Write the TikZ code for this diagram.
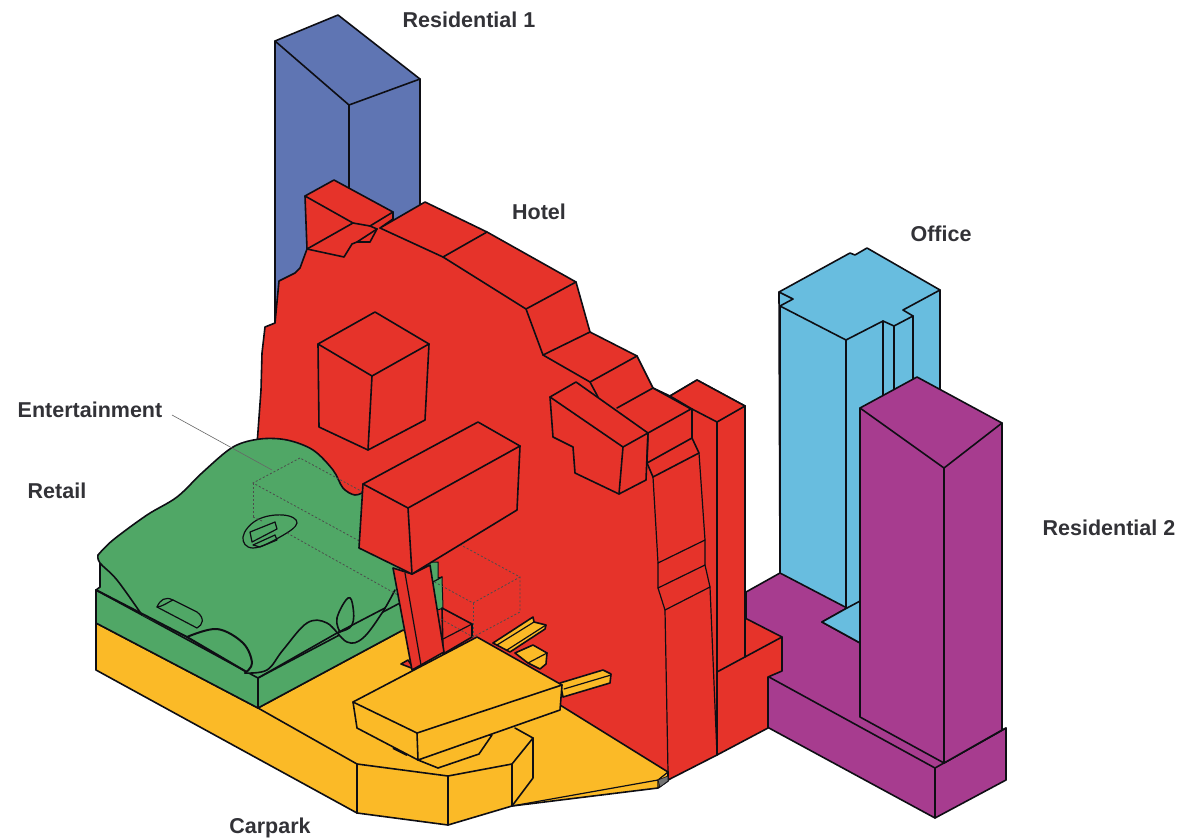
\documentclass[tikz,border=0pt]{standalone}
\usepackage{fontspec}
\newfontfamily\lblfont{Liberation Sans}
\definecolor{cblue}{HTML}{5F75B3}
\definecolor{cred}{HTML}{E6332A}
\definecolor{cgreen}{HTML}{50A766}
\definecolor{cyel}{HTML}{FBBA27}
\definecolor{cpur}{HTML}{A73C8F}
\definecolor{ccyan}{HTML}{68BDDF}
\definecolor{ink}{HTML}{0E0E14}
\tikzset{
  ln/.style={draw=ink,line width=1.6pt,line join=round,line cap=round},
  thin ln/.style={draw=ink,line width=1.2pt,line join=round,line cap=round},
  lbl/.style={font=\lblfont\bfseries\fontsize{21.5}{25}\selectfont,text=ink!85,inner sep=0pt},
  dots/.style={draw=black!70,line width=.8pt,dash pattern=on 2pt off 2pt},
  blueface/.style={ln,fill=cblue},
  redface/.style={ln,fill=cred},
  yelface/.style={ln,fill=cyel},
  purface/.style={ln,fill=cpur},
  cyanface/.style={ln,fill=ccyan}
}
\begin{document}
\begin{tikzpicture}[x=1pt,y=-1pt]
\useasboundingbox (0,0) rectangle (1181,838);
% Residential 1
\path[blueface] (275,41)--(338,15)--(420,79)--(420,260)--(275,330)--cycle;
\draw[ln] (275,41)--(349,105)--(420,79);
\draw[ln] (349,105)--(349,260);
% Office
\path[cyanface] (779,292)--(850,253)--(855,255)--(867,248)--(940,290)--(940,420)--(870,650)--(780,575)--cycle;
\draw[ln] (780,306)--(793,299)--(779,292);
\draw[ln] (780,306)--(846,340)--(883,321)--(894,326)--(913,316)--(903,310)--(940,290);
\draw[ln] (846,340)--(846,610);
\draw[ln] (883,321)--(883,400);
\draw[ln] (894,326)--(894,400);
\draw[ln] (913,316)--(913,390);
\draw[line width=2.2pt,draw=ink] (780,306)--(780,573);
% Purple base and tower
\path[purface] (746,592)--(780,573)--(847,608)--(822,622)--(860,643)--(944,763)--(1006,728)--(1006,780)--(935,818)--(769,728)--(746,700)--cycle;
\path[cyanface] (822,622)--(847,608)--(862,600)--(862,644)--cycle;
\draw[ln] (769,677)--(935,768)--(935,818);
\draw[ln] (935,768)--(1006,728);
\path[purface] (860,408)--(917,377)--(1002,423)--(1002,730)--(944,763)--(860,717)--cycle;
\draw[ln] (860,408)--(944,468)--(1002,423);
\draw[ln] (944,468)--(944,763);
% Hotel silhouette
\path[redface] (257,445)--(261,390)--(262,353)--(265,327)--(275,323)--(279,281)--(295,273)--(300,268)--(307,249)--(305,196)--(334,180)--(393,212)--(393,219)--(380,228)--(425,202)--(487,232)--(576,282)--(590,332)--(637,356)--(653,388)--(670,396)--(697,380)--(745,406)--(745,618)--(782,637)--(782,671)--(768,677)--(768,728)--(717,755)--(668,780)--(560,720)--(400,640)--cycle;
% tower head
\draw[ln] (305,196)--(353,223)--(370,226)--(393,212);
\draw[ln] (307,249)--(353,223);
\draw[ln] (307,249)--(344,257)--(352,244)--(357,242)--(370,242)--(377,229)--(370,226);
\draw[ln] (357,242)--(377,229);
% roof blocks
\draw[ln] (380,228)--(443,257)--(526,309)--(576,282);
\draw[ln] (443,257)--(487,232);
\draw[ln] (526,309)--(543,355)--(590,332);
\draw[ln] (543,355)--(590,382)--(637,356);
\draw[ln] (590,382)--(598,397);
\draw[ln] (617,408)--(653,388);
\draw[ln] (653,388)--(691,409)--(648,433);
% cube
\path[redface] (375,312)--(429,344)--(425,420)--(368,450)--(319,427)--(318,344)--cycle;
\draw[ln] (318,344)--(372,376)--(429,344);
\draw[ln] (372,376)--(368,450);
% stepped block
\path[redface] (550,397)--(576,382)--(648,433)--(646,480)--(619,494)--(575,473)--(573,447)--(553,437)--cycle;
\draw[ln] (550,397)--(623,447)--(648,433);
\draw[ln] (623,447)--(619,494);
% right tall parts
\path[redface] (670,396)--(697,380)--(745,406)--(717,422)--(692,409)--cycle;
\draw[ln] (692,409)--(692,438);
\draw[ln] (648,433)--(647,463)--(692,438)--(699,453)--(653,477)--(647,463);
\draw[thin ln] (653,477)--(658,563)--(658,588)--(665,610)--(668,772);
\draw[thin ln] (699,453)--(705,540)--(705,565)--(710,587)--(717,755);
\draw[thin ln] (658,563)--(705,540);
\draw[thin ln] (658,588)--(705,565);
\draw[thin ln] (665,610)--(710,587);
\draw[ln] (717,422)--(717,755);
\draw[ln] (717,672)--(782,637);
\draw[ln] (745,406)--(745,657);
% Carpark base
\path[yelface] (96,623)--(96,670)--(357,813)--(448,825)--(512,806)--(658,788)--(668,781)--(668,772)--(560,705)--(440,650)--(403,630)--(258,708)--cycle;
\draw[ln] (258,708)--(357,764)--(448,776)--(512,764)--(533,738)--(515,728);
\draw[ln] (357,764)--(357,813);
\draw[ln] (448,776)--(448,825);
\draw[ln] (512,764)--(512,806)--(533,778)--(533,738);
\draw[thin ln] (512,806)--(658,780)--(658,788);
\draw[thin ln] (658,780)--(668,772);
\path[draw=ink,line width=.6pt,fill=black!55] (658,780)--(668,776)--(668,781)--(660,787)--cycle;
% Retail plate
\fill[cgreen] (96,590)--(96,623)--(258,708)--(403,630)--(430,600)--(400,560)--(100,563)--(100,587)--cycle;
\draw[ln] (96,590)--(96,623)--(258,708)--(403,630);
\draw[ln] (96,590)--(100,587);
\draw[thin ln] (100,587)--(100,563);
\draw[ln] (258,678)--(258,708);
\draw[ln] (96,590)--(245,671)--(258,678)--(400,603);
% Retail roof
\fill[cgreen] plot[smooth,tension=.55] coordinates {(98,555)(113,540)(147,515)(177,497)(203,472)(233,447)(260,439)(287,440)(313,450)(333,470)(343,488)(355,495)(366,491)} -- (430,600) -- (395,590) -- plot[smooth,tension=.6] coordinates {(395,590)(382,613)(363,638)(347,642)(327,623)(307,623)(283,650)(267,670)(245,673)} -- plot[smooth,tension=.6] coordinates {(245,673)(252,663)(243,643)(217,629)(187,637)} -- (142,615) -- plot[smooth,tension=.6] coordinates {(142,615)(117,580)(100,563)(98,555)} -- cycle;
\draw[ln] plot[smooth,tension=.55] coordinates {(98,555)(113,540)(147,515)(177,497)(203,472)(233,447)(260,439)(287,440)(313,450)(333,470)(343,488)(355,495)(366,491)};
\draw[ln] plot[smooth,tension=.6] coordinates {(395,590)(382,613)(363,638)(347,642)(327,623)(307,623)(283,650)(267,670)(245,673)};
\draw[ln] plot[smooth,tension=.6] coordinates {(142,615)(117,580)(100,563)(98,555)};
\draw[ln,line width=2pt] plot[smooth,tension=.6] coordinates {(187,637)(217,629)(243,643)(252,663)(245,673)};
\draw[ln,line width=2pt] (96,590)--(187,637)--(245,671);
\draw[ln] (258,678)--(337,633)--(385,608);
\draw[ln] plot[smooth,tension=.7] coordinates {(337,633)(340,632)(352,625)(353,607)(348,598)(337,618)(340,632)};
\draw[thin ln] (157,607)..controls (160,600) and (165,596)..(173,600)--(197,612)..controls (205,618) and (203,625)..(197,628)--cycle;
\draw[thin ln] (157,607)..controls (162,607) and (170,601)..(173,600);
\path[thin ln,fill=cgreen] plot[smooth cycle,tension=.7] coordinates {(243,537)(253,548)(280,537)(297,523)(283,515)(257,520)};
\draw[thin ln] (250,532)--(275,522)--(277,529)--(252,542)--cycle;
\draw[thin ln] (253,545)--(275,535)--(277,540)--(260,547)--cycle;
% Green sliver and ledge behind pillar
\path[fill=cgreen,draw=ink,line width=1pt] (425,562)--(438,562)--(438,578)--(442,577)--(443,608)--(435,611)--cycle;
\draw[thin ln] (433,582)--(442,577);
\path[redface] (442,608)--(472,624)--(472,637)--(443,654)--cycle;
\draw[thin ln] (443,639)--(472,624);
% Entertainment ghost box
\draw[dots] (300,458)--(253,483)--(473,603)--(520,577)--cycle;
\draw[dots] (253,483)--(253,517);
\draw[dots] (253,517)--(262,521);
\draw[dots] (287,533)--(473,637)--(520,612)--(520,577);
\draw[dots] (473,603)--(473,637);
% Leader
\coordinate (leaderend) at (272,470);
% Pillar
\path[redface] (401,664)--(408,660)--(414,669)--cycle;
\path[redface] (393,568)--(412,574)--(430,565)--(444,652)--(412,670)--cycle;
\draw[thin ln] (405,573)--(421,665);
% Bars
\path[yelface] (493,643)--(533,617)--(534,622)--(546,625)--(545,629)--(510,652)--cycle;
\draw[thin ln] (497,645)--(534,622);
\draw[thin ln] (507,650)--(546,625);
\path[yelface] (515,653)--(533,645)--(547,653)--(546,664)--(540,669)--(528,663)--cycle;
\draw[thin ln] (528,663)--(547,653);
\path[yelface] (560,683)--(603,670)--(611,674)--(610,683)--(563,697)--cycle;
\draw[thin ln] (564,689)--(611,675);
% Under-plate and plate
\path[yelface] (418,760)--(438,768)--(479,754)--(492,735)--(470,735)--cycle;
\path[yelface] (353,702)--(357,728)--(418,760)--(560,710)--(562,685)--(477,637)--cycle;
\draw[ln] (353,702)--(417,733)--(562,685);
\draw[ln] (417,733)--(418,760);
\draw[ink,line width=2pt] (393,748)--(407,755);
% Box on pillar
\path[redface] (363,484)--(478,422)--(520,446)--(517,510)--(412,574)--(359,548)--cycle;
\draw[ln] (363,484)--(408,508)--(520,446);
\draw[ln] (408,508)--(412,574);
% Labels
\node[lbl] (res1) at (469,20) {Residential 1};
\node[lbl] (hotel) at (539,212) {Hotel};
\node[lbl] (office) at (941,234) {Office};
\node[lbl] (ent) at (90,410) {Entertainment};
\node[lbl] (retail) at (57,491) {Retail};
\node[lbl] (res2) at (1109,528) {Residential 2};
\node[lbl] (carpark) at (270,828) {Carpark};
\draw[black!60,line width=.6pt] (172,415) -- (leaderend);
\end{tikzpicture}
\end{document}
